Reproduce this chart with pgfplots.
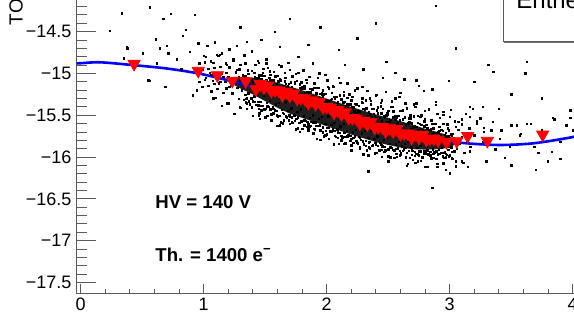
\documentclass[border=0pt]{standalone}
\usepackage{pgfplots}
\pgfplotsset{compat=1.18}
\usepackage{fontspec}
\setmainfont{Liberation Sans}

\definecolor{rootblue}{rgb}{0,0,1}
\definecolor{rootred}{rgb}{1,0,0}
\definecolor{axgray}{gray}{0.35}

\pgfplotsset{rootframe/.style={
  x=61.5pt, y=41.8pt,
  xmin=-0.0325, xmax=4.6, ymin=-17.629, ymax=-13.8,
  at={(38.35pt,21.35pt)}, anchor=south west,
  axis line style={axgray, line width=0.5pt},
  every tick/.style={axgray, line width=0.5pt},
  tick align=inside,
  ticklabel style={font=\fontsize{9}{11}\selectfont, inner sep=0pt},
}, dots/.style={only marks, mark=square*, mark size=0.36pt, black}}

\begin{document}
\begin{tikzpicture}
\useasboundingbox (0,0) rectangle (287pt,168pt);
\clip (0,0) rectangle (287pt,168pt);

\begin{axis}[rootframe,
  xtick=\empty,
  ytick={-17.5,-17,-16.5,-16,-15.5,-15,-14.5,-14},
  yticklabels={−17.5,−17,−16.5,−16,−15.5,−15,−14.5,−14},
  minor y tick num=4, ytick pos=left,
  major tick length=9.5pt, minor tick length=5pt,
  yticklabel style={anchor=east, xshift=-2.5pt}]

% dense core of the scatter band
\addplot[draw=none, fill=black!88] coordinates {
(1.25,-15.04) (1.30,-15.04) (1.40,-15.05) (1.50,-15.08) (1.60,-15.11) (1.70,-15.155)
(1.80,-15.20) (1.90,-15.25) (2.00,-15.30) (2.10,-15.35) (2.20,-15.40) (2.30,-15.445)
(2.40,-15.49) (2.50,-15.53) (2.60,-15.57) (2.70,-15.615) (2.80,-15.66) (2.90,-15.70)
(3.00,-15.745) (3.06,-15.83)
(3.00,-15.89) (2.90,-15.905) (2.80,-15.91) (2.70,-15.905) (2.60,-15.885) (2.50,-15.855)
(2.40,-15.82) (2.30,-15.775) (2.20,-15.73) (2.10,-15.68) (2.00,-15.63) (1.90,-15.58)
(1.80,-15.53) (1.70,-15.48) (1.60,-15.41) (1.50,-15.33) (1.40,-15.25) (1.30,-15.18)
(1.25,-15.14)
};

% scatter band, first pass
\addplot[dots] coordinates {
(1.334,-15.032)(1.324,-15.092)(1.338,-15.257)(1.327,-15.317)
(1.359,-15.004)(1.349,-15.072)(1.363,-15.237)(1.352,-15.297)
(1.384,-15.074)(1.374,-15.134)(1.388,-15.300)(1.377,-15.367)
(1.409,-14.994)(1.399,-15.107)(1.413,-15.272)(1.402,-15.332)
(1.434,-15.059)(1.424,-15.171)(1.438,-15.254)(1.427,-15.374)
(1.459,-15.106)(1.449,-15.025)(1.463,-15.340)(1.452,-15.475)
(1.484,-14.946)(1.474,-15.090)(1.488,-15.261)(1.477,-15.387)
(1.509,-15.083)(1.499,-15.155)(1.513,-15.353)(1.502,-15.425)
(1.534,-15.050)(1.524,-15.131)(1.538,-15.329)(1.527,-15.401)
(1.559,-15.133)(1.549,-15.205)(1.563,-15.403)(1.552,-15.484)
(1.584,-15.036)(1.574,-15.171)(1.588,-15.369)(1.577,-15.441)
(1.609,-15.092)(1.599,-15.242)(1.613,-15.352)(1.602,-15.512)
(1.634,-15.174)(1.624,-15.084)(1.638,-15.434)(1.627,-15.584)
(1.659,-14.995)(1.649,-15.155)(1.663,-15.345)(1.652,-15.485)
(1.684,-15.146)(1.674,-15.226)(1.688,-15.446)(1.677,-15.526)
(1.709,-15.107)(1.699,-15.197)(1.713,-15.417)(1.702,-15.497)
(1.734,-15.199)(1.724,-15.279)(1.738,-15.499)(1.727,-15.589)
(1.759,-15.09)(1.749,-15.24)(1.763,-15.46)(1.752,-15.54)
(1.784,-15.171)(1.774,-15.321)(1.788,-15.431)(1.777,-15.591)
(1.809,-15.253)(1.799,-15.163)(1.813,-15.513)(1.802,-15.663)
(1.834,-15.075)(1.824,-15.235)(1.838,-15.425)(1.827,-15.565)
(1.859,-15.228)(1.849,-15.308)(1.863,-15.528)(1.852,-15.608)
(1.884,-15.19)(1.874,-15.28)(1.888,-15.50)(1.877,-15.58)
(1.909,-15.283)(1.899,-15.363)(1.913,-15.583)(1.902,-15.673)
(1.934,-15.175)(1.924,-15.325)(1.938,-15.545)(1.927,-15.625)
(1.959,-15.258)(1.949,-15.408)(1.963,-15.518)(1.952,-15.678)
(1.984,-15.34)(1.974,-15.25)(1.988,-15.60)(1.977,-15.75)
(2.009,-15.163)(1.999,-15.323)(2.013,-15.513)(2.002,-15.653)
(2.034,-15.315)(2.024,-15.395)(2.038,-15.615)(2.027,-15.695)
(2.059,-15.278)(2.049,-15.368)(2.063,-15.588)(2.052,-15.668)
(2.084,-15.37)(2.074,-15.45)(2.088,-15.67)(2.077,-15.76)
(2.109,-15.263)(2.099,-15.413)(2.113,-15.633)(2.102,-15.713)
(2.134,-15.345)(2.124,-15.495)(2.138,-15.605)(2.127,-15.765)
(2.159,-15.428)(2.149,-15.338)(2.163,-15.688)(2.152,-15.838)
(2.184,-15.25)(2.174,-15.41)(2.188,-15.60)(2.177,-15.74)
(2.209,-15.402)(2.199,-15.482)(2.213,-15.702)(2.202,-15.782)
(2.234,-15.364)(2.224,-15.454)(2.238,-15.674)(2.227,-15.754)
(2.259,-15.455)(2.249,-15.535)(2.263,-15.755)(2.252,-15.845)
(2.284,-15.346)(2.274,-15.496)(2.288,-15.716)(2.277,-15.796)
(2.309,-15.427)(2.299,-15.577)(2.313,-15.687)(2.302,-15.847)
(2.334,-15.509)(2.324,-15.419)(2.338,-15.769)(2.327,-15.919)
(2.359,-15.33)(2.349,-15.49)(2.363,-15.68)(2.352,-15.82)
(2.384,-15.481)(2.374,-15.561)(2.388,-15.781)(2.377,-15.861)
(2.409,-15.442)(2.399,-15.532)(2.413,-15.752)(2.402,-15.832)
(2.434,-15.532)(2.424,-15.612)(2.438,-15.832)(2.427,-15.922)
(2.459,-15.422)(2.449,-15.572)(2.463,-15.792)(2.452,-15.872)
(2.484,-15.502)(2.474,-15.652)(2.488,-15.762)(2.477,-15.922)
(2.509,-15.582)(2.499,-15.492)(2.513,-15.842)(2.502,-15.992)
(2.534,-15.401)(2.524,-15.561)(2.538,-15.751)(2.527,-15.891)
(2.559,-15.549)(2.549,-15.629)(2.563,-15.849)(2.552,-15.929)
(2.584,-15.508)(2.574,-15.598)(2.588,-15.818)(2.577,-15.898)
(2.609,-15.617)(2.599,-15.684)(2.613,-15.872)(2.602,-15.948)
(2.634,-15.524)(2.624,-15.652)(2.638,-15.839)(2.627,-15.907)
(2.659,-15.594)(2.649,-15.721)(2.663,-15.815)(2.652,-15.951)
(2.684,-15.663)(2.674,-15.587)(2.688,-15.885)(2.677,-16.012)
(2.709,-15.511)(2.699,-15.647)(2.713,-15.809)(2.702,-15.928)
(2.734,-15.637)(2.724,-15.705)(2.738,-15.892)(2.727,-15.960)
(2.759,-15.600)(2.749,-15.677)(2.763,-15.864)(2.752,-15.932)
(2.784,-15.675)(2.774,-15.742)(2.788,-15.930)(2.777,-16.006)
(2.809,-15.616)(2.799,-15.721)(2.813,-15.875)(2.802,-15.931)
(2.834,-15.672)(2.824,-15.777)(2.838,-15.854)(2.827,-15.966)
(2.859,-15.727)(2.849,-15.664)(2.863,-15.909)(2.852,-16.014)
(2.884,-15.60)(2.874,-15.712)(2.888,-15.845)(2.877,-15.943)
(2.909,-15.704)(2.899,-15.760)(2.913,-15.914)(2.902,-15.970)
(2.934,-15.674)(2.924,-15.737)(2.938,-15.891)(2.927,-15.947)
(2.959,-15.735)(2.949,-15.791)(2.963,-15.945)(2.952,-16.008)
(2.984,-15.656)(2.974,-15.761)(2.988,-15.915)(2.977,-15.971)
(3.009,-15.728)(2.999,-15.818)(3.013,-15.884)(3.002,-15.980)
(3.034,-15.774)(3.024,-15.72)(3.038,-15.93)(3.027,-16.02)
(3.055,-15.78)(3.06,-15.9)(3.08,-15.84)(3.1,-15.76)(3.12,-15.95)(3.14,-15.82)(3.17,-15.88)(3.2,-15.74)
};

% scatter band, second pass
\addplot[dots] coordinates {
(1.343,-15.032)(1.343,-15.302)(1.343,-15.347)(1.368,-15.004)(1.368,-15.079)(1.368,-15.335)
(1.393,-15.067)(1.393,-15.307)(1.393,-15.405)(1.418,-14.995)(1.418,-15.048)(1.418,-15.341)
(1.443,-15.051)(1.443,-15.382)(1.443,-15.337)(1.468,-15.065)(1.468,-15.389)(1.468,-15.443)
(1.493,-15.031)(1.493,-15.121)(1.493,-15.427)(1.518,-15.105)(1.518,-15.393)(1.518,-15.51)
(1.543,-15.017)(1.543,-15.08)(1.543,-15.431)(1.568,-15.083)(1.568,-15.479)(1.568,-15.425)
(1.593,-15.121)(1.593,-15.445)(1.593,-15.499)(1.618,-15.068)(1.618,-15.168)(1.618,-15.508)
(1.643,-15.149)(1.643,-15.469)(1.643,-15.599)(1.668,-15.051)(1.668,-15.121)(1.668,-15.511)
(1.693,-15.122)(1.693,-15.562)(1.693,-15.502)(1.718,-15.163)(1.718,-15.523)(1.718,-15.583)
(1.743,-15.124)(1.743,-15.224)(1.743,-15.564)(1.768,-15.206)(1.768,-15.526)(1.768,-15.656)
(1.793,-15.107)(1.793,-15.177)(1.793,-15.567)(1.818,-15.179)(1.818,-15.619)(1.818,-15.559)
(1.843,-15.222)(1.843,-15.582)(1.843,-15.642)(1.868,-15.184)(1.868,-15.284)(1.868,-15.624)
(1.893,-15.267)(1.893,-15.587)(1.893,-15.717)(1.918,-15.169)(1.918,-15.239)(1.918,-15.629)
(1.943,-15.242)(1.943,-15.682)(1.943,-15.622)(1.968,-15.284)(1.968,-15.644)(1.968,-15.704)
(1.993,-15.247)(1.993,-15.347)(1.993,-15.687)(2.018,-15.329)(2.018,-15.649)(2.018,-15.779)
(2.043,-15.232)(2.043,-15.302)(2.043,-15.692)(2.068,-15.304)(2.068,-15.744)(2.068,-15.684)
(2.093,-15.347)(2.093,-15.707)(2.093,-15.767)(2.118,-15.309)(2.118,-15.409)(2.118,-15.749)
(2.143,-15.392)(2.143,-15.712)(2.143,-15.842)(2.168,-15.294)(2.168,-15.364)(2.168,-15.754)
(2.193,-15.367)(2.193,-15.807)(2.193,-15.747)(2.218,-15.408)(2.218,-15.768)(2.218,-15.828)
(2.243,-15.369)(2.243,-15.469)(2.243,-15.809)(2.268,-15.451)(2.268,-15.771)(2.268,-15.901)
(2.293,-15.352)(2.293,-15.422)(2.293,-15.812)(2.318,-15.423)(2.318,-15.863)(2.318,-15.803)
(2.343,-15.464)(2.343,-15.824)(2.343,-15.884)(2.368,-15.426)(2.368,-15.526)(2.368,-15.866)
(2.393,-15.507)(2.393,-15.827)(2.393,-15.957)(2.418,-15.407)(2.418,-15.477)(2.418,-15.867)
(2.443,-15.477)(2.443,-15.917)(2.443,-15.857)(2.468,-15.517)(2.468,-15.877)(2.468,-15.937)
(2.493,-15.477)(2.493,-15.577)(2.493,-15.917)(2.518,-15.556)(2.518,-15.876)(2.518,-16.006)
(2.543,-15.455)(2.543,-15.525)(2.543,-15.915)(2.568,-15.524)(2.568,-15.964)(2.568,-15.904)
(2.593,-15.563)(2.593,-15.923)(2.593,-15.983)(2.618,-15.55)(2.618,-15.635)(2.618,-15.925)
(2.643,-15.62)(2.643,-15.892)(2.643,-16.003)(2.668,-15.536)(2.668,-15.596)(2.668,-15.928)
(2.693,-15.597)(2.693,-15.972)(2.693,-15.921)(2.718,-15.631)(2.718,-15.937)(2.718,-15.988)
(2.743,-15.594)(2.743,-15.679)(2.743,-15.969)(2.768,-15.66)(2.768,-15.932)(2.768,-16.043)
(2.793,-15.572)(2.793,-15.632)(2.793,-15.964)(2.818,-15.656)(2.818,-15.964)(2.818,-15.922)
(2.843,-15.683)(2.843,-15.935)(2.843,-15.977)(2.868,-15.654)(2.868,-15.724)(2.868,-15.962)
(2.893,-15.709)(2.893,-15.933)(2.893,-16.024)(2.918,-15.638)(2.918,-15.687)(2.918,-15.96)
(2.943,-15.685)(2.943,-15.993)(2.943,-15.951)(2.968,-15.711)(2.968,-15.963)(2.968,-16.005)
(2.993,-15.681)(2.993,-15.751)(2.993,-15.989)(3.018,-15.746)(3.018,-15.938)(3.018,-16.016)
};

% halo above and below the band
\addplot[dots] coordinates {
(1.00,-14.79)(1.03,-14.672)(1.06,-14.854)(1.09,-14.626)(1.12,-14.787)(1.15,-14.758)
(1.18,-14.878)(1.21,-14.709)(1.24,-14.85)(1.27,-14.96)(1.30,-14.90)(1.33,-14.782)
(1.36,-14.964)(1.39,-14.736)(1.42,-14.899)(1.45,-14.873)(1.48,-14.996)(1.51,-14.83)
(1.54,-14.973)(1.57,-15.087)(1.60,-15.03)(1.63,-14.914)(1.66,-15.097)(1.69,-14.871)
(1.72,-15.034)(1.75,-15.008)(1.78,-15.131)(1.81,-14.965)(1.84,-15.11)(1.87,-15.225)
(1.90,-15.17)(1.93,-15.055)(1.96,-15.24)(1.99,-15.015)(2.02,-15.18)(2.05,-15.155)
(2.08,-15.28)(2.11,-15.115)(2.14,-15.26)(2.17,-15.375)(2.20,-15.32)(2.23,-15.204)
(2.26,-15.387)(2.29,-15.161)(2.32,-15.324)(2.35,-15.298)(2.38,-15.421)(2.41,-15.254)
(2.44,-15.396)(2.47,-15.508)(2.50,-15.45)(2.53,-15.331)(2.56,-15.511)(2.59,-15.282)
(2.62,-15.443)(2.65,-15.415)(2.68,-15.537)(2.71,-15.368)(2.74,-15.505)(2.77,-15.613)
(2.80,-15.55)(2.83,-15.428)(2.86,-15.605)(2.89,-15.373)(2.92,-15.529)(2.95,-15.495)
(2.98,-15.611)(3.01,-15.437)(3.04,-15.571)(3.07,-15.676)(3.10,-15.61)(3.13,-15.484)
(3.16,-15.658)(3.19,-15.422)(3.22,-15.575)(3.25,-15.537)(3.28,-15.649)
(1.10,-15.293)(1.15,-15.388)(1.20,-15.355)(1.25,-15.483)(1.30,-15.41)(1.35,-15.36)
(1.40,-15.51)(1.45,-15.423)(1.50,-15.525)(1.55,-15.498)(1.60,-15.63)(1.65,-15.563)
(1.70,-15.515)(1.75,-15.668)(1.80,-15.58)(1.85,-15.685)(1.90,-15.66)(1.95,-15.795)
(2.00,-15.73)(2.05,-15.685)(2.10,-15.84)(2.15,-15.755)(2.20,-15.86)(2.25,-15.833)
(2.30,-15.965)(2.35,-15.898)(2.40,-15.85)(2.45,-16.0)(2.50,-15.91)(2.55,-16.008)
(2.60,-15.975)(2.65,-16.105)(2.70,-16.035)(2.75,-15.978)(2.80,-16.12)(2.85,-16.023)
(2.90,-16.115)(2.95,-16.075)(3.00,-16.195)(3.05,-16.113)(3.10,-16.05)
};

% start of the band and the outer halo
\addplot[dots] coordinates {
(0.965,-14.88)(0.965,-15.10)(0.99,-14.957)(0.99,-15.157)(1.012,-14.865)(1.012,-15.075)
(1.04,-14.946)(1.04,-15.146)(1.063,-15.015)(1.063,-15.215)(1.088,-14.935)(1.088,-15.125)
(1.11,-14.993)(1.11,-15.183)(1.137,-14.923)(1.137,-15.103)(1.16,-15.041)(1.16,-15.231)
(1.186,-14.99)(1.186,-15.18)(1.21,-14.928)(1.21,-15.158)(1.235,-15.057)(1.235,-15.237)
(1.26,-14.986)(1.26,-15.126)(1.285,-15.045)(1.285,-15.305)
(0.975,-14.97)(1.02,-15.05)(1.05,-14.99)(1.075,-15.09)(1.1,-15.01)(1.125,-15.12)(1.15,-15.0)
(1.175,-15.1)(1.2,-15.04)(1.225,-15.15)(1.25,-15.06)(1.275,-15.17)(1.3,-15.08)(1.31,-15.2)(1.32,-15.02)
(1.02,-14.8)(1.08,-14.87)(1.13,-14.78)(1.19,-14.9)(1.24,-14.83)(1.29,-14.95)(1.34,-14.88)
(1.39,-14.97)(1.44,-14.85)(1.47,-15.02)(1.52,-14.93)(1.57,-14.98)(1.61,-14.9)(1.66,-15.05)
(1.7,-14.96)(1.74,-15.1)(1.77,-14.99)(1.82,-15.15)(1.86,-15.04)(1.9,-15.12)(1.94,-15.0)
(1.97,-15.2)(2.01,-15.08)(2.06,-15.16)(2.1,-15.05)(2.14,-15.22)(2.17,-15.12)(2.21,-15.28)
(2.25,-15.18)(2.29,-15.3)(2.33,-15.21)(2.36,-15.37)(2.4,-15.26)(2.44,-15.35)(2.48,-15.22)
(2.52,-15.4)(2.56,-15.3)(2.6,-15.45)(2.64,-15.36)(2.68,-15.5)(2.72,-15.4)(2.76,-15.52)
(2.8,-15.45)(2.85,-15.56)(2.9,-15.48)(2.95,-15.6)(3.0,-15.52)(3.05,-15.64)(3.1,-15.55)
(3.16,-15.66)(3.22,-15.6)(3.28,-15.7)(3.35,-15.58)(3.42,-15.68)(3.5,-15.62)(3.58,-15.72)
(3.66,-15.6)(3.75,-15.68)(3.85,-15.55)(3.95,-15.62)
(1.2,-15.35)(1.35,-15.42)(1.45,-15.5)(1.55,-15.56)(1.62,-15.62)(1.7,-15.6)(1.78,-15.7)
(1.85,-15.66)(1.92,-15.78)(1.99,-15.74)(2.06,-15.85)(2.12,-15.8)(2.2,-15.92)(2.27,-15.88)
(2.34,-15.98)(2.41,-15.95)(2.5,-16.05)(2.57,-16.0)(2.66,-16.08)(2.74,-16.05)(2.82,-16.12)
(2.9,-16.08)(2.97,-16.15)(3.05,-16.05)(3.15,-16.12)(3.3,-16.05)(3.5,-16.1)(3.7,-16.15)(3.9,-16.02)
};

% sparse outliers
\addplot[dots] coordinates {
(0.333,-14.28)(0.563,-14.21)(0.732,-14.29)(0.238,-14.49)(0.672,-14.35)(0.829,-14.55)
(0.856,-14.48)(0.93,-14.30)(0.379,-14.70)(0.504,-14.76)(0.61,-14.59)(0.645,-14.70)
(0.712,-14.76)(0.55,-15.08)(0.69,-15.16)(0.91,-15.26)(0.374,-14.69)(0.35,-14.82)
(0.558,-15.09)(0.62,-14.88)(0.70,-14.67)(0.89,-14.74)(0.956,-14.64)(1.106,-14.78)
(1.268,-14.67)(1.35,-14.62)(1.47,-14.6)(1.62,-14.68)(1.77,-14.80)(1.89,-14.88)
(1.85,-14.66)(2.0,-15.08)(1.51,-14.88)(0.943,-15.2)(1.078,-15.30)(1.187,-15.36)
(1.295,-15.40)(1.457,-15.54)(1.62,-15.62)(1.864,-15.64)(0.78,-14.83)(0.82,-14.95)
(2.886,-14.19)(2.485,-14.86)(2.56,-14.99)(2.455,-15.05)(2.63,-15.07)(2.73,-15.08)
(2.995,-15.09)(2.75,-15.15)(2.86,-15.19)(2.79,-15.21)(2.6,-15.23)(3.314,-14.90)
(3.354,-14.98)(3.626,-14.86)(3.615,-15.0)(3.27,-15.40)(3.40,-15.42)(3.165,-15.40)
(2.89,-15.34)(2.95,-15.46)(2.447,-15.32)(2.73,-15.36)(3.98,-15.44)(3.84,-15.53)
(2.77,-15.50)(3.07,-15.58)(3.165,-15.52)(3.34,-15.68)(3.41,-15.78)(3.49,-15.88)
(3.545,-15.62)(3.57,-15.74)(3.626,-15.60)(3.69,-15.88)(3.72,-15.95)(3.80,-16.05)
(3.83,-15.94)(3.90,-15.82)(3.98,-15.53)(4.0,-15.68)(3.27,-15.82)(3.37,-15.91)
(3.45,-16.01)(3.11,-16.07)(3.165,-15.93)(2.86,-16.37)(2.34,-16.17)(2.72,-16.07)
(2.87,-16.01)(1.95,-14.45)(2.1,-14.72)(2.25,-14.58)(1.7,-14.35)(2.4,-14.40)(2.15,-14.9)
(1.58,-14.5)(3.05,-14.7)(3.2,-15.1)(3.5,-15.25)(3.75,-15.3)(2.3,-14.95)(1.3,-14.45)
};

% binned points
\addplot[only marks, mark=triangle*, mark size=3.5pt, rootred, mark options={rotate=180}] coordinates {
(0.434,-14.885)(0.956,-14.968)(1.111,-15.02)(1.233,-15.087)(1.341,-15.092)(1.425,-15.188)
(1.46,-15.127)(1.49,-15.17)(1.52,-15.144)(1.55,-15.208)(1.58,-15.201)(1.61,-15.205)
(1.64,-15.258)(1.67,-15.222)(1.70,-15.265)(1.73,-15.239)(1.76,-15.302)(1.79,-15.295)
(1.82,-15.30)(1.85,-15.355)(1.88,-15.32)(1.91,-15.365)(1.94,-15.34)(1.97,-15.405)
(2.00,-15.40)(2.03,-15.41)(2.06,-15.47)(2.09,-15.437)(2.12,-15.485)(2.15,-15.465)
(2.18,-15.533)(2.21,-15.532)(2.24,-15.538)(2.27,-15.597)(2.30,-15.565)(2.33,-15.609)
(2.36,-15.582)(2.39,-15.646)(2.42,-15.638)(2.45,-15.64)(2.48,-15.692)(2.51,-15.654)
(2.54,-15.694)(2.57,-15.665)(2.60,-15.725)(2.63,-15.717)(2.66,-15.719)(2.69,-15.771)
(2.72,-15.73)(2.75,-15.768)(2.78,-15.735)(2.81,-15.793)(2.84,-15.78)(2.87,-15.778)
(2.906,-15.80)(2.975,-15.82)(3.057,-15.81)(3.146,-15.747)(3.306,-15.805)(3.756,-15.73)
};

% fit
\addplot[rootblue, line width=1.3pt, smooth, no marks] coordinates {
(-0.05,-14.88)(0.0,-14.877)(0.16,-14.866)(0.43,-14.90)(0.7,-14.94)(0.96,-15.0)
(1.21,-15.086)(1.4,-15.16)(1.62,-15.257)(1.78,-15.33)(2.03,-15.457)(2.32,-15.596)
(2.6,-15.70)(2.865,-15.787)(3.14,-15.835)(3.41,-15.855)(3.68,-15.835)(3.99,-15.763)(4.2,-15.69)
};

\node[anchor=base west, inner sep=0pt, font=\bfseries\fontsize{9.3}{11}\selectfont]
  at (axis cs:0.604,-16.609) {HV = 140 V};
\node[anchor=base west, inner sep=0pt, font=\bfseries\fontsize{9.3}{11}\selectfont]
  at (axis cs:0.604,-17.243) {Th. = 1400 e\textsuperscript{−}};

% statistics box
\fill[black!55] (axis cs:3.445,-14.638) rectangle (axis cs:4.7,-13.7);
\draw[fill=white, draw=axgray, line width=0.5pt] (axis cs:3.436,-14.62) rectangle (axis cs:4.7,-13.7);
\node[anchor=base west, inner sep=0pt, font=\fontsize{12}{14}\selectfont]
  at (axis cs:3.539,-14.222) {Entries};
\end{axis}

\begin{axis}[rootframe,
  axis y line=none, axis x line*=bottom, ytick=\empty,
  xtick={0,1,2,3,4}, xticklabels={0,1,2,3,4},
  minor x tick num=4, xtick pos=left,
  major tick length=4.5pt, minor tick length=2.25pt,
  xticklabel style={anchor=north, yshift=-2.35pt}]
\end{axis}

\node[rotate=90, anchor=base west, inner sep=0pt, font=\fontsize{9.5}{11}\selectfont]
  at (11.35pt,155.25pt) {TO (ns)};
\end{tikzpicture}
\end{document}
